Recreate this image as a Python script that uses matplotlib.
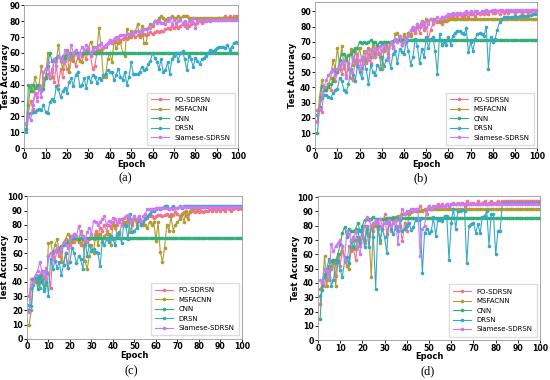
import matplotlib
matplotlib.use("Agg")
import matplotlib.pyplot as plt
import seaborn as sns

epochs = list(range(1, 101))
names = ["FO-SDRSN", "MSFACNN", "CNN", "DRSN", "Siamese-SDRSN"]
colors = sns.color_palette("husl", 5)

# ---- (a) ----
fo_a = [12, 22, 30, 25, 35, 32, 38, 36, 44, 45, 47, 44, 50, 42, 52, 40, 50, 45, 55, 50,
        48, 56, 58, 52, 57, 55, 58, 60, 56, 62, 58, 50, 52, 60, 62, 61, 63, 64, 66, 67,
        66, 68, 67, 69, 68, 69, 70, 69, 70, 70, 71, 70, 71, 72, 71, 72, 71, 72, 73, 72,
        73, 74, 73, 74, 74, 75, 76, 75, 77, 76, 77, 76, 77, 78, 77, 78, 77, 78, 79, 78,
        79, 80, 79, 80, 80, 81, 80, 81, 81, 81, 82, 81, 82, 83, 82, 83, 82, 83, 83, 83]
msf_a = [15, 27, 40, 36, 45, 38, 40, 52, 40, 44, 60, 44, 45, 56, 55, 65, 55, 50, 58, 62,
         48, 58, 55, 60, 58, 55, 54, 60, 62, 63, 67, 64, 60, 62, 76, 62, 45, 45, 56, 60,
         54, 68, 63, 66, 67, 60, 58, 75, 70, 74, 72, 74, 78, 70, 77, 66, 66, 76, 78, 77,
         80, 80, 82, 83, 82, 81, 82, 82, 83, 82, 82, 83, 82, 83, 83, 83, 82, 82, 82, 82,
         82, 82, 82, 82, 82, 82, 82, 82, 82, 82, 82, 82, 82, 82, 82, 82, 82, 82, 82, 82]
cnn_a = [12, 40, 36, 40, 38, 40, 38, 38, 37, 44, 52, 60, 55, 55, 57, 58, 56, 58, 57, 59.5] + [60] * 80
drsn_a = [10, 20, 22, 23, 23, 24, 25, 24, 27, 23, 22, 29, 31, 30, 39, 37, 32, 36, 38, 35,
          42, 44, 39, 46, 48, 39, 40, 44, 38, 45, 42, 46, 45, 41, 44, 43, 46, 47, 49, 48,
          48, 43, 46, 50, 45, 43, 48, 40, 45, 54, 47, 47, 47, 48, 51, 49, 50, 53, 55, 60,
          57, 54, 50, 56, 48, 49, 54, 47, 56, 58, 60, 55, 60, 61, 56, 49, 58, 56, 51, 57,
          55, 53, 56, 57, 58, 60, 62, 61, 62, 63, 64, 64, 64, 63, 65, 62, 64, 66, 67, 66]
sia_a = [16, 20, 18, 27, 35, 30, 38, 32, 48, 50, 54, 45, 48, 56, 52, 58, 56, 54, 62, 60,
         56, 65, 60, 62, 58, 60, 64, 62, 65, 63, 60, 62, 64, 63, 65, 66, 64, 65, 66, 68,
         67, 69, 70, 70, 71, 71, 71, 72, 72, 72, 73, 73, 74, 73, 74, 75, 75, 76, 76, 78,
         80, 79, 80, 79, 79, 78, 80, 82, 78, 81, 79, 80, 81, 79, 80, 76, 80, 80, 82, 76,
         80, 81, 81, 80, 81, 81, 81, 81, 81, 81, 81, 81, 81, 81, 81, 81, 81, 81, 81, 81]

# ---- (b) ----
fo_b = [25, 26, 24, 38, 40, 42, 38, 46, 44, 50, 52, 49, 55, 48, 56, 46, 45, 58, 55, 58,
        53, 60, 56, 62, 56, 64, 60, 66, 62, 70, 65, 68, 66, 70, 67, 72, 70, 74, 68, 74,
        72, 76, 75, 78, 76, 80, 76, 82, 78, 80, 72, 78, 82, 85, 83, 84, 82, 85, 84, 86,
        86, 87, 85, 87, 88, 86, 87, 88, 86, 88, 88, 87, 89, 88, 89, 88, 89, 88, 90, 89,
        89, 90, 88, 90, 89, 90, 89, 90, 90, 89, 90, 90, 89, 90, 90, 89, 90, 91, 90, 91]
msf_b = [18, 34, 45, 40, 38, 42, 46, 58, 52, 66, 55, 67, 53, 60, 52, 65, 55, 64, 57, 66,
         58, 64, 57, 66, 60, 68, 62, 68, 60, 52, 64, 68, 62, 70, 66, 75, 76, 72, 68, 75,
         72, 76, 74, 80, 78, 82, 80, 84, 82, 85, 84, 85, 85, 84, 84, 83, 84, 84, 84, 84.5] + [85] * 40
cnn_b = [10, 27, 41, 38, 38, 40, 42, 44, 50, 50, 58, 62, 62, 58, 61, 62, 64, 66, 66, 70,
         69, 70, 69, 70, 71, 70, 70, 68, 70, 69, 70, 70, 70, 70, 70.5] + [71] * 65
drsn_b = [22, 26, 33, 35, 35, 34, 33, 36, 38, 39, 46, 44, 38, 37, 42, 52, 48, 44, 54, 50,
          46, 57, 52, 42, 55, 50, 48, 55, 52, 60, 54, 58, 60, 53, 62, 64, 56, 65, 63, 62,
          70, 64, 55, 60, 72, 67, 56, 65, 60, 73, 66, 72, 73, 64, 49, 75, 68, 70, 68, 73,
          68, 74, 76, 77, 77, 76, 75, 79, 63, 70, 64, 72, 75, 76, 75, 74, 80, 52, 73, 70,
          72, 78, 83, 85, 86, 86, 86, 86, 86, 87, 86, 87, 87, 87, 87, 87, 87.5, 88, 88, 88]
sia_b = [17, 26, 35, 40, 45, 48, 50, 52, 48, 52, 54, 56, 58, 46, 56, 50, 60, 56, 62, 52,
         60, 56, 64, 58, 65, 60, 66, 62, 67, 64, 68, 66, 58, 70, 66, 72, 70, 74, 68, 70,
         72, 74, 78, 80, 78, 82, 80, 83, 80, 84, 82, 85, 84, 84, 86, 85, 86, 86, 87, 88,
         88, 89, 88, 89, 89, 88, 89, 90, 89, 90, 89, 90, 90, 89, 90, 90, 91, 90, 90, 91,
         91, 90, 91, 91, 90, 91, 91, 91, 90, 91, 91, 91, 91, 90, 91, 91, 91, 91, 91, 91]

# ---- (c) ----
fo_c = [30, 42, 42, 44, 40, 45, 48, 42, 50, 46, 36, 58, 55, 62, 58, 62, 52, 60, 50, 66,
        70, 68, 72, 70, 66, 70, 66, 68, 70, 74, 70, 76, 72, 78, 76, 80, 76, 80, 78, 82,
        78, 80, 82, 84, 80, 82, 84, 82, 80, 84, 82, 84, 80, 83, 84, 85, 86, 86, 85, 86,
        87, 87, 86, 87, 88, 86, 88, 87, 89, 88, 86, 88, 89, 86, 88, 89, 90, 89, 90, 89,
        90, 89, 90, 90, 91, 90, 91, 90, 91, 90, 91, 90, 92, 91, 90, 91, 92, 91, 92, 91]
msf_c = [10, 20, 42, 40, 44, 40, 42, 36, 38, 67, 68, 60, 66, 70, 62, 54, 68, 70, 74, 72,
         68, 74, 70, 68, 76, 66, 55, 49, 58, 66, 60, 74, 66, 74, 70, 72, 74, 74, 66, 80,
         80, 72, 74, 80, 82, 80, 84, 75, 82, 86, 80, 84, 82, 80, 80, 78, 82, 80, 82, 69,
         82, 61, 54, 64, 80, 76, 86, 76, 80, 82, 84, 88, 82, 90, 84, 90, 92, 92, 92, 92] + [92.5] * 20
cnn_c = [20, 36, 42, 44, 35, 44, 40, 35, 40, 58, 60, 61, 62, 63, 64, 65, 66, 67, 68, 70,
         70.5, 71, 71, 70, 70.5] + [71] * 75
drsn_c = [24, 23, 38, 42, 44, 36, 48, 34, 46, 30, 56, 49, 55, 50, 54, 45, 52, 60, 50, 54,
          64, 60, 53, 58, 56, 49, 70, 58, 66, 62, 63, 61, 60, 51, 68, 66, 70, 68, 72, 70,
          66, 74, 75, 67, 80, 79, 70, 88, 75, 76, 78, 84, 80, 82, 85, 86, 88, 90, 90, 91,
          92, 91, 92, 93, 93, 91, 92, 93, 92, 92, 93, 92, 93] + [93.5] * 27
sia_c = [19, 38, 40, 45, 48, 54, 47, 48, 42, 58, 60, 56, 62, 64, 60, 64, 68, 66, 64, 70,
         72, 74, 72, 79, 74, 72, 70, 75, 78, 74, 83, 82, 80, 82, 84, 86, 80, 83, 82, 85,
         84, 82, 84, 80, 85, 86, 87, 82, 84, 86, 84, 86, 83, 86, 88, 91, 91, 91, 91, 92,
         92, 92, 92, 92, 92, 91, 92, 91, 92, 92] + [92.5] * 30

# ---- (d) ----
fo_d = [25, 40, 38, 48, 42, 50, 54, 45, 58, 52, 62, 58, 52, 66, 62, 64, 56, 70, 66, 72,
        68, 78, 73, 80, 76, 82, 78, 80, 78, 88, 74, 82, 76, 84, 78, 86, 80, 69, 82, 76,
        88, 90, 92, 92, 90, 94, 90, 92, 88, 94, 92, 94, 93, 95, 94, 95, 94, 95, 94, 95,
        96, 95, 96, 95, 96, 94, 97, 95, 96, 96, 95, 97, 95, 96, 97, 95, 96, 97, 96, 96,
        97, 96, 97, 97, 97, 97, 97, 97, 97, 97, 97, 97, 97, 97, 97, 97, 97, 97, 97, 97]
msf_d = [36, 38, 59, 38, 50, 52, 56, 38, 55, 60, 66, 56, 52, 50, 64, 70, 64, 72, 68, 76,
         70, 80, 74, 44, 80, 80, 78, 68, 80, 82, 84, 85, 85, 86, 86, 87, 87, 88, 88, 89,
         89, 89.5, 90, 90, 90, 90.5, 91, 91] + [91.5] * 52
cnn_d = [15, 40, 46, 48, 52, 55, 56, 56, 60, 67, 75, 79, 72, 78, 76, 76, 78, 82, 76, 80,
         84, 85, 85, 85, 86, 85, 85, 85, 85, 85] + [85.5] * 70
drsn_d = [31, 35, 44, 50, 57, 38, 42, 54, 56, 49, 44, 55, 58, 54, 69, 65, 70, 77, 68, 78,
          65, 78, 65, 80, 72, 36, 80, 70, 78, 72, 61, 85, 78, 74, 80, 76, 84, 76, 78, 80,
          82, 77, 79, 84, 84, 85, 47, 75, 78, 75, 76, 86, 73, 84, 84, 83, 87, 87, 56, 82,
          92, 78, 90, 90, 91, 90, 54, 80, 81, 82, 75, 81, 75, 86, 87, 90, 66, 88, 88, 60,
          76, 76, 96, 96, 96, 96, 96, 96, 96, 96, 96, 96, 96, 96, 96, 96, 96, 96, 96, 96]
sia_d = [42, 40, 50, 48, 44, 67, 62, 66, 68, 70, 66, 56, 76, 74, 70, 72, 76, 66, 60, 72,
         80, 86, 84, 80, 82, 84, 82, 85, 80, 82, 82, 84, 80, 82, 84, 67, 86, 92, 88, 90,
         90, 92, 90, 92, 92, 59, 78, 80, 92, 94, 92, 93, 94, 94, 93, 94, 94, 95, 94, 95] + [95] * 40

panels = [
    ([fo_a, msf_a, cnn_a, drsn_a, sia_a], 90, "(a)"),
    ([fo_b, msf_b, cnn_b, drsn_b, sia_b], 96, "(b)"),
    ([fo_c, msf_c, cnn_c, drsn_c, sia_c], 100, "(c)"),
    ([fo_d, msf_d, cnn_d, drsn_d, sia_d], 101, "(d)"),
]
# axes boxes in figure fractions: left, bottom, width, height
boxes = [
    [0.044, 0.610, 0.389, 0.376],
    [0.573, 0.610, 0.404, 0.384],
    [0.049, 0.108, 0.391, 0.375],
    [0.578, 0.105, 0.404, 0.380],
]
ylabel_x = [-0.068, -0.080, -0.082, -0.080]
captions_xy = [(0.227, 0.531), (0.764, 0.531), (0.238, 0.022), (0.777, 0.022)]

fig = plt.figure(figsize=(5.5, 3.8), dpi=100)
for (series, ytop, cap), box, cxy, ylx in zip(panels, boxes, captions_xy, ylabel_x):
    ax = fig.add_axes(box)
    for vals, name, c in zip(series, names, colors):
        ax.plot(epochs, vals, color=c, lw=0.8, marker="o", ms=1.6, label=name)
    ax.set_xlim(0, 100)
    ax.set_ylim(0, ytop)
    ax.set_xticks(range(0, 101, 10))
    ax.set_yticks(range(0, int(ytop) + 1, 10))
    ax.tick_params(labelsize=5.6, length=2, width=0.6, pad=1)
    ax.tick_params(axis="x", pad=0.5)
    for lab in ax.get_xticklabels() + ax.get_yticklabels():
        lab.set_fontweight("bold")
    ax.set_xlabel("Epoch", fontsize=6, fontweight="bold")
    ax.set_ylabel("Test Accuracy", fontsize=6, fontweight="bold")
    ax.xaxis.set_label_coords(0.5, -0.083)
    ax.yaxis.set_label_coords(ylx, 0.5)
    for s in ax.spines.values():
        s.set_color("#999999")
        s.set_linewidth(0.6)
    ax.legend(loc="lower right", fontsize=5, handlelength=2.6, labelspacing=0.5,
              borderpad=0.6, framealpha=1, edgecolor="#dddddd", fancybox=False)
    fig.text(cxy[0], cxy[1], cap, ha="center", va="center", fontsize=9,
             family="Liberation Serif")

fig.savefig("out.png", dpi=100)
